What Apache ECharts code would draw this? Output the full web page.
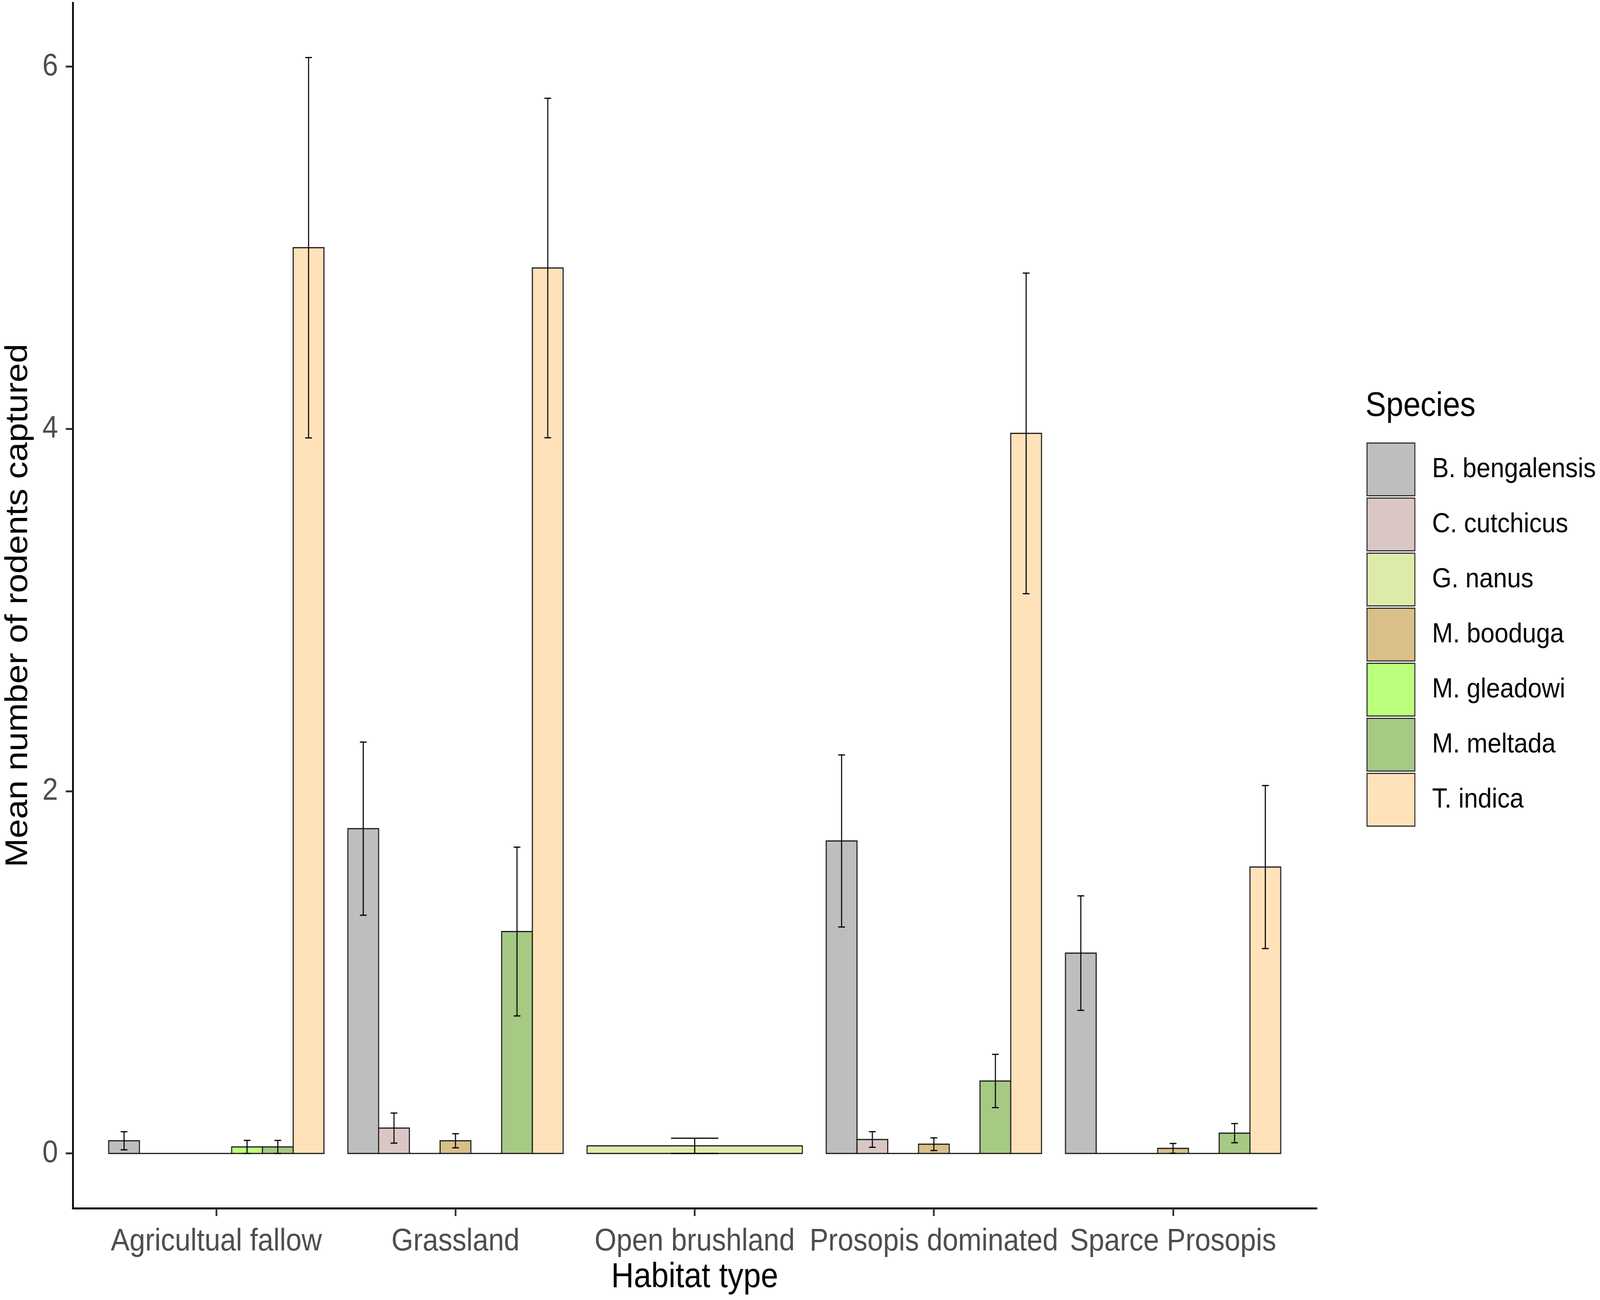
<!DOCTYPE html>
<html><head><meta charset="utf-8">
<script src="https://cdn.jsdelivr.net/npm/echarts@6/dist/echarts.min.js"></script>
<style>html,body{margin:0;padding:0;background:#fff;overflow:hidden}#c{width:4550px;height:3329px;transform-origin:0 0}</style>
</head><body><div id="c"></div>
<script>
const categories = ['Agricultual fallow', 'Grassland', 'Open brushland', 'Prosopis dominated', 'Sparce Prosopis'];
const species = ['B. bengalensis', 'C. cutchicus', 'G. nanus', 'M. booduga', 'M. gleadowi', 'M. meltada', 'T. indica'];
const speciesColors = ['#BEBEBE', '#DBC6C6', '#DDEBAA', '#D9C088', '#BBFF7C', '#A6C984', '#FFE2BA'];

// mean number captured per habitat (null = species absent from that habitat)
const bBengalensis = [0.07, 1.793, null, 1.725, 1.106];
const cCutchicus   = [0, 0.14, null, 0.077, 0];
const gNanus       = [0, 0, 0.042, 0, 0];
const mBooduga     = [0, 0.07, null, 0.051, 0.028];
const mGleadowi    = [0.036, 0, null, 0, 0];
const mMeltada     = [0.036, 1.225, null, 0.40, 0.112];
const tIndica      = [5.0, 4.888, null, 3.975, 1.581];

// standard errors
const bBengalensisSE = [0.05, 0.478, null, 0.475, 0.316];
const cCutchicusSE   = [0, 0.083, null, 0.043, 0];
const gNanusSE       = [0, 0, 0.042, 0, 0];
const mBoodugaSE     = [0, 0.039, null, 0.035, 0.027];
const mGleadowiSE    = [0.036, 0, null, 0, 0];
const mMeltadaSE     = [0.036, 0.466, null, 0.147, 0.053];
const tIndicaSE      = [1.05, 0.937, null, 0.885, 0.45];

const yTicks = [0, 2, 4, 6];

const meanArrays = [bBengalensis, cCutchicus, gNanus, mBooduga, mGleadowi, mMeltada, tIndica];
const seArrays = [bBengalensisSE, cCutchicusSE, gNanusSE, mBoodugaSE, mGleadowiSE, mMeltadaSE, tIndicaSE];

// fit the 4550 x 3329 drawing to whatever viewport the browser really has
const box = document.getElementById('c');
box.style.transform = 'scale(' + (window.innerWidth / 4550) + ',' + (window.innerHeight / 3329) + ')';

// dodge (ggplot position_dodge, width 0.9)
function seriesData(s) {
  const out = [];
  categories.forEach((c, i) => {
    const present = species.map((_, k) => k).filter(k => meanArrays[k][i] !== null);
    const k = present.indexOf(s);
    if (k < 0) return;
    const w = 0.9 / present.length;
    const x = i - 0.45 + (k + 0.5) * w;
    const m = meanArrays[s][i], se = seArrays[s][i];
    out.push([x, m, m - se, m + se, w]);
  });
  return out;
}

function renderItem(params, api) {
  const x = api.value(0), m = api.value(1), lo = api.value(2), hi = api.value(3), w = api.value(4);
  const p0 = api.coord([x - w / 2, m]);
  const p1 = api.coord([x + w / 2, 0]);
  const color = api.visual('color');
  const children = [{
    type: 'rect',
    shape: { x: p0[0], y: p0[1], width: p1[0] - p0[0], height: p1[1] - p0[1] },
    style: { fill: color, stroke: '#1a1a1a', lineWidth: 3 }
  }];
  if (hi > lo) {
    const cw = w * 0.22;
    const a = api.coord([x, hi]), b = api.coord([x, lo]);
    const cl = api.coord([x - cw / 2, 0])[0], cr = api.coord([x + cw / 2, 0])[0];
    const st = { stroke: '#000', lineWidth: 3 };
    children.push({ type: 'line', shape: { x1: a[0], y1: a[1], x2: b[0], y2: b[1] }, style: st });
    children.push({ type: 'line', shape: { x1: cl, y1: a[1], x2: cr, y2: a[1] }, style: st });
    children.push({ type: 'line', shape: { x1: cl, y1: b[1], x2: cr, y2: b[1] }, style: st });
  }
  return { type: 'group', children };
}

const FONT = 'Liberation Sans, Arial, sans-serif';
const chart = echarts.init(box, null, { renderer: 'canvas', width: 4550, height: 3329 });
chart.setOption({
  animation: false,
  backgroundColor: '#fff',
  textStyle: { fontFamily: FONT },
  title: {
    text: 'Species', left: 3883, top: 997, padding: 0,
    textStyle: { fontSize: 88, fontWeight: 'normal', color: '#000', fontFamily: FONT }
  },
  legend: {
    orient: 'vertical', left: 3881, top: 1128,
    itemWidth: 136, itemHeight: 135, itemGap: 3, icon: 'rect',
    selectedMode: false,
    itemStyle: { borderColor: '#333', borderWidth: 3 },
    textStyle: { fontSize: 71, color: '#000', fontFamily: FONT, padding: [0, 0, 0, 44] },
    data: species
  },
  grid: { left: 200, right: 806, top: 7, bottom: 235, containLabel: false },
  xAxis: {
    type: 'value', min: -0.6, max: 4.6,
    axisLine: { show: true, onZero: false, lineStyle: { color: '#000', width: 5 } },
    axisTick: { show: true, customValues: [0, 1, 2, 3, 4], length: 20, lineStyle: { color: '#333', width: 5 } },
    axisLabel: { customValues: [0, 1, 2, 3, 4], formatter: v => categories[v], fontSize: 80, color: '#4D4D4D', margin: 46, fontFamily: FONT },
    splitLine: { show: false },
    name: 'Habitat type', nameLocation: 'middle', nameGap: 133,
    nameTextStyle: { fontSize: 89, color: '#000', fontFamily: FONT }
  },
  yAxis: {
    type: 'value', min: -0.3025, max: 6.3525,
    axisLine: { show: true, onZero: false, lineStyle: { color: '#000', width: 5 } },
    axisTick: { show: true, customValues: yTicks, length: 20, lineStyle: { color: '#333', width: 5 } },
    axisLabel: { customValues: yTicks, fontSize: 80, color: '#4D4D4D', margin: 42, fontFamily: FONT },
    splitLine: { show: false },
    name: 'Mean number of rodents captured', nameLocation: 'middle', nameGap: 110,
    nameTextStyle: { fontSize: 89, color: '#000', fontFamily: FONT }
  },
  series: species.map((name, s) => ({
    type: 'custom',
    name,
    color: speciesColors[s],
    itemStyle: { color: speciesColors[s] },
    renderItem,
    encode: { x: 0, y: 1 },
    data: seriesData(s)
  }))
});
</script></body></html>
